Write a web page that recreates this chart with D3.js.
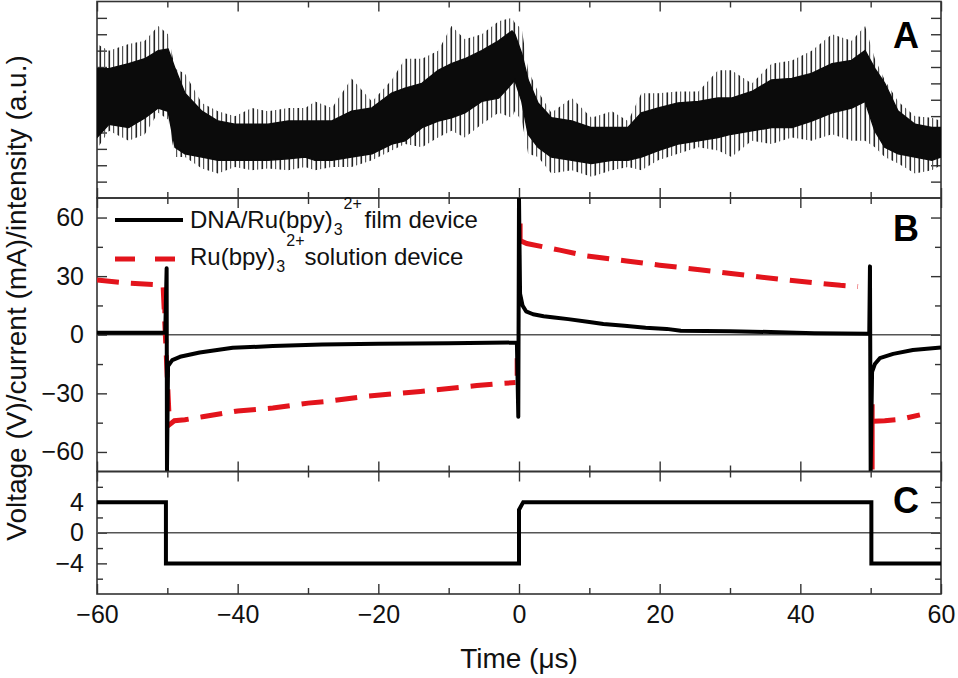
<!DOCTYPE html>
<html>
<head>
<meta charset="utf-8">
<script src="https://cdn.jsdelivr.net/npm/d3@7"></script>
<style>
  body { margin: 0; background: #ffffff; }
  svg { display: block; font-family: "Liberation Sans", Arial, Helvetica, sans-serif; }
</style>
</head>
<body>
<svg id="chart" width="958" height="678"></svg>
<script>

// Time axis shared by the three panels (µs)
const timeDomain = [-60, 60]
const timeTicks = [-60, -40, -20, 0, 20, 40, 60]
const timeMinorTicks = [-50, -30, -10, 10, 30, 50]

const intensityTime = [-60, -58.3, -55.5, -53.2, -51.3, -49.9, -48.9, -47.5, -45.1, -42.8, -40.4, -38, -35.7, -32.8, -30.4, -29, -26.6, -23.8, -20.9, -18.1, -16.2, -13.8, -11.5, -9.6, -7.7, -5.3, -2.9, -1, -0.6, 0.4, 1.3, 2.7, 4.6, 7.5, 10.3, 13.2, 15.5, 17.4, 19.8, 22.6, 25.5, 28.3, 30.2, 33.1, 35.9, 38.8, 41.6, 44.5, 47.3, 49.2, 50.6, 52, 53.9, 56.3, 58.7, 60]
const intensityCoreHigh = [7.9, 7.9, 8.2, 8.5, 9.0, 9.1, 7.9, 6.4, 5.3, 4.7, 4.5, 4.5, 4.5, 4.7, 4.7, 4.7, 4.7, 5.3, 5.5, 6.4, 6.7, 7.0, 7.8, 8.2, 8.5, 9.0, 9.6, 10.2, 10.0, 8.8, 7.2, 5.8, 4.9, 4.7, 4.3, 4.3, 4.3, 5.2, 5.5, 5.8, 5.9, 6.1, 6.1, 6.5, 7.2, 7.3, 7.6, 8.2, 8.4, 9.0, 7.9, 7.0, 5.3, 4.5, 4.3, 4.3]
const intensityCoreLow = [3.7, 4.5, 4.3, 4.9, 5.5, 5.3, 3.1, 2.7, 2.5, 2.3, 2.3, 2.3, 2.3, 2.4, 2.5, 2.3, 2.3, 2.5, 2.7, 3.3, 3.5, 4.3, 4.7, 4.9, 5.2, 5.9, 6.1, 7.0, 7.2, 5.9, 3.9, 3.1, 2.5, 2.3, 2.1, 2.3, 2.3, 2.5, 2.9, 3.3, 3.5, 3.7, 3.9, 4.1, 4.3, 4.3, 4.7, 5.2, 5.5, 5.9, 4.1, 3.1, 2.7, 2.5, 2.3, 2.5]
const intensitySpikeHigh = [9.4, 9.0, 9.4, 9.6, 10.5, 10.0, 7.9, 7.6, 5.8, 5.3, 5.0, 5.5, 5.3, 5.5, 5.5, 5.9, 5.5, 7.3, 5.9, 7.2, 8.5, 8.5, 9.0, 10.5, 9.7, 10.0, 10.8, 11.0, 10.7, 10.3, 7.8, 6.5, 5.2, 6.1, 4.9, 5.3, 4.7, 6.4, 6.4, 6.5, 6.5, 7.8, 7.8, 7.0, 8.2, 8.4, 9.0, 10.0, 9.6, 10.5, 8.5, 7.2, 5.9, 5.0, 4.9, 4.7]
const intensitySpikeLow = [3.0, 4.1, 3.5, 3.9, 5.2, 4.8, 2.5, 2.5, 1.8, 1.5, 1.9, 1.7, 1.8, 1.7, 1.9, 1.7, 1.9, 1.9, 2.3, 2.9, 3.3, 3.1, 3.7, 4.1, 3.7, 4.5, 5.2, 4.9, 5.3, 4.7, 2.7, 2.5, 1.5, 1.7, 1.3, 1.7, 1.9, 1.7, 2.3, 2.7, 3.1, 2.9, 2.5, 3.5, 3.3, 3.7, 3.5, 3.9, 3.5, 3.5, 3.1, 2.5, 2.1, 1.5, 1.7, 2.0]
const intensityTicks = [1, 2, 3, 4, 5, 6, 7, 8, 9, 10, 11]

// Panel B: current (mA)
const filmTime = [-60, -50.3, -50.1, -50.05, -49.9, -49.3, -48.2, -45.4, -40.7, -35, -28, -20, -10, -0.3, -0.1, 0, 0.15, 0.5, 1, 2, 3.5, 5, 7, 10, 12, 15, 18, 21, 23, 30, 37, 42, 49.8, 49.9, 50, 50.2, 50.6, 51.3, 53.2, 56, 60]
const filmCurrent = [1, 1, 34, -70, -16, -13, -11.3, -9.1, -6.7, -5.8, -5, -4.6, -4.3, -4, -42, 70, 21, 15, 12, 10.5, 9.5, 8.8, 8, 6.5, 5.5, 4.6, 3.6, 3, 2, 1.8, 1.3, 0.8, 0.5, 35, -70, -19, -15, -12, -9.8, -7.8, -6.5]
const solutionTime = [-60, -56, -51, -50.6, -49.7, -49, -47.5, -45, -40, -35, -30, -27, -21.6, -14, -6, -2.7, -0.5, -0.4, 0.3, 1.1, 5.8, 9.6, 15.3, 20, 25.7, 32.4, 37.5, 45.7, 48.2, 50.3, 50.4, 52, 54.2, 57]
const solutionCurrent = [28, 26.5, 25.5, 25, -46, -44, -43.5, -42, -39, -37.5, -35, -34, -31.4, -29, -26, -25, -24.5, null, 48, 46.7, 43.3, 40.4, 37.8, 35.6, 33.3, 30.4, 28.2, 25.3, 24.7, null, -44.3, -44, -43.3, -41]
const solutionJumpTime = [-50.5, -0.4, 0.3, 50.35]
const solutionJumpFrom = [20, -21, 57, -35.6]
const solutionJumpTo = [11, -12, 47, -69]
const currentTicks = [-60, -30, 0, 30, 60]
const currentMinorTicks = [-45, -15, 15, 45]

// Panel C: applied voltage (V)
const voltageTime = [-60, -50.2, -50.2, 0, 0, 0.6, 50.1, 50.1, 60]
const voltageValue = [4, 4, -4, -4, 3, 4, 4, -4, -4]
const voltageTicks = [-4, 0, 4]
const voltageMinorTicks = [-6, -2, 2, 6]

// Legend entries
const legendLabels = [
    { main: "DNA/Ru(bpy)", sub: "3", sup: "2+", tail: " film device" },
    { main: "Ru(bpy)", sub: "3", sup: "2+", tail: "solution device" }
]

const svg = d3.select("#chart")
const plotLeft = 97
const plotRight = 941

const x = d3.scaleLinear().domain(timeDomain).range([plotLeft, plotRight])

// Panel geometry
const panelA = { name: "A", top: 1.5, bottom: 198, y: d3.scaleLinear().domain([0, 12]).range([198, 1.5]), letterY: 48 }
const panelB = { name: "B", top: 198, bottom: 471.5, y: d3.scaleLinear().domain([-70, 70]).range([471.5, 198]), letterY: 241 }
const panelC = { name: "C", top: 471.5, bottom: 594, y: d3.scaleLinear().domain([-8, 8]).range([594, 471.5]), letterY: 513 }

const defs = svg.append("defs")

// Vertical hatch for the spike fringe of the noisy intensity trace
let spikePattern = defs.append("pattern")
    .attr("id", "spikes")
    .attr("patternUnits", "userSpaceOnUse")
    .attr("width", 9)
    .attr("height", 10)
spikePattern.append("rect")
    .attr("x", 0.5)
    .attr("y", 0)
    .attr("width", 1.6)
    .attr("height", 10)
    .attr("fill", "#222")
spikePattern.append("rect")
    .attr("x", 5)
    .attr("y", 0)
    .attr("width", 1.2)
    .attr("height", 10)
    .attr("fill", "#555")

function clipFor(panel) {
    defs.append("clipPath")
        .attr("id", "clip" + panel.name)
        .append("rect")
        .attr("x", plotLeft)
        .attr("y", panel.top)
        .attr("width", plotRight - plotLeft)
        .attr("height", panel.bottom - panel.top)
    return "url(#clip" + panel.name + ")"
}

function tickStyle(g) {
    g.select(".domain").remove()
    g.selectAll(".tick line").attr("stroke", "#333").attr("stroke-width", 1.4)
    g.selectAll(".tick text")
        .attr("fill", "#111")
        .style("font-size", "25px")
        .style("font-family", "'Liberation Sans', Arial, sans-serif")
}

// Frame, inward ticks on all four sides
function drawFrame(panel, majorY, minorY, showYLabels, showXLabels) {
    let g = svg.append("g")

    // Time ticks on top and bottom edges
    g.append("g")
        .attr("transform", "translate(0," + panel.top + ")")
        .call(d3.axisTop(x).tickValues(timeTicks).tickSizeInner(-10).tickSizeOuter(0).tickFormat(""))
        .call(tickStyle)
    g.append("g")
        .attr("transform", "translate(0," + panel.top + ")")
        .call(d3.axisTop(x).tickValues(timeMinorTicks).tickSizeInner(-6).tickSizeOuter(0).tickFormat(""))
        .call(tickStyle)
    g.append("g")
        .attr("transform", "translate(0," + panel.bottom + ")")
        .call(d3.axisBottom(x).tickValues(timeTicks).tickSizeInner(-10).tickSizeOuter(0).tickPadding(11)
            .tickFormat(showXLabels ? d3.format("d") : ""))
        .call(tickStyle)
    g.append("g")
        .attr("transform", "translate(0," + panel.bottom + ")")
        .call(d3.axisBottom(x).tickValues(timeMinorTicks).tickSizeInner(-6).tickSizeOuter(0).tickFormat(""))
        .call(tickStyle)

    // Value ticks on left and right edges
    g.append("g")
        .attr("transform", "translate(" + plotLeft + ",0)")
        .call(d3.axisLeft(panel.y).tickValues(majorY).tickSizeInner(-10).tickSizeOuter(0).tickPadding(13)
            .tickFormat(showYLabels ? d3.format("d") : ""))
        .call(tickStyle)
    g.append("g")
        .attr("transform", "translate(" + plotRight + ",0)")
        .call(d3.axisRight(panel.y).tickValues(majorY).tickSizeInner(-10).tickSizeOuter(0).tickFormat(""))
        .call(tickStyle)
    if (minorY.length) {
        g.append("g")
            .attr("transform", "translate(" + plotLeft + ",0)")
            .call(d3.axisLeft(panel.y).tickValues(minorY).tickSizeInner(-6).tickSizeOuter(0).tickFormat(""))
            .call(tickStyle)
        g.append("g")
            .attr("transform", "translate(" + plotRight + ",0)")
            .call(d3.axisRight(panel.y).tickValues(minorY).tickSizeInner(-6).tickSizeOuter(0).tickFormat(""))
            .call(tickStyle)
    }

    g.append("rect")
        .attr("x", plotLeft)
        .attr("y", panel.top)
        .attr("width", plotRight - plotLeft)
        .attr("height", panel.bottom - panel.top)
        .attr("fill", "none")
        .attr("stroke", "#333")
        .attr("stroke-width", 1.6)
}

function zeroLine(panel) {
    svg.append("line")
        .attr("x1", plotLeft)
        .attr("x2", plotRight)
        .attr("y1", panel.y(0))
        .attr("y2", panel.y(0))
        .attr("stroke", "#555")
        .attr("stroke-width", 1.3)
}

function panelLetter(panel) {
    svg.append("text")
        .attr("x", 919)
        .attr("y", panel.letterY)
        .attr("text-anchor", "end")
        .attr("font-weight", "bold")
        .attr("font-size", 36)
        .attr("fill", "#000")
        .text(panel.name)
}

// ---------- Panel A ----------
let clipA = clipFor(panelA)
drawFrame(panelA, intensityTicks, [], false, false)

let gA = svg.append("g").attr("clip-path", clipA)
let idxA = d3.range(intensityTime.length)

gA.append("path")
    .attr("d", d3.area()
        .x(i => x(intensityTime[i]))
        .y0(i => panelA.y(intensitySpikeLow[i]))
        .y1(i => panelA.y(intensitySpikeHigh[i]))(idxA))
    .attr("fill", "url(#spikes)")

gA.append("path")
    .attr("d", d3.area()
        .x(i => x(intensityTime[i]))
        .y0(i => panelA.y(intensityCoreLow[i]))
        .y1(i => panelA.y(intensityCoreHigh[i]))(idxA))
    .attr("fill", "#0b0b0b")
    .attr("stroke", "#0b0b0b")
    .attr("stroke-width", 1.5)

panelLetter(panelA)

// ---------- Panel B ----------
let clipB = clipFor(panelB)
drawFrame(panelB, currentTicks, currentMinorTicks, true, false)
zeroLine(panelB)

let gB = svg.append("g").attr("clip-path", clipB)

// Solution device (red dashed)
gB.append("path")
    .attr("d", d3.line()
        .defined(i => solutionCurrent[i] !== null)
        .x(i => x(solutionTime[i]))
        .y(i => panelB.y(solutionCurrent[i]))(d3.range(solutionTime.length)))
    .attr("fill", "none")
    .attr("stroke", "#e3141c")
    .attr("stroke-width", 5)
    .attr("stroke-dasharray", "22,12")

gB.selectAll(".jump")
    .data(d3.range(solutionJumpTime.length))
    .enter()
    .append("line")
    .attr("x1", i => x(solutionJumpTime[i]))
    .attr("x2", i => x(solutionJumpTime[i]))
    .attr("y1", i => panelB.y(solutionJumpFrom[i]))
    .attr("y2", i => panelB.y(solutionJumpTo[i]))
    .attr("stroke", "#e3141c")
    .attr("stroke-width", 3)

// Film device (black solid)
gB.append("path")
    .attr("d", d3.line()
        .x(i => x(filmTime[i]))
        .y(i => panelB.y(filmCurrent[i]))(d3.range(filmTime.length)))
    .attr("fill", "none")
    .attr("stroke", "#000")
    .attr("stroke-width", 4)
    .attr("stroke-linejoin", "round")

// Legend
let legendRows = [
    { y: 220, textY: 228, stroke: "#000", dash: null, width: 4 },
    { y: 259, textY: 265, stroke: "#e3141c", dash: "20,20", width: 5 }
]
legendRows.forEach((row, i) => {
    let ln = svg.append("line")
        .attr("x1", 115)
        .attr("x2", i == 0 ? 183 : 176)
        .attr("y1", row.y)
        .attr("y2", row.y)
        .attr("stroke", row.stroke)
        .attr("stroke-width", row.width)
    if (row.dash) ln.attr("stroke-dasharray", row.dash)

    let label = legendLabels[i]
    let t = svg.append("text")
        .attr("x", 190)
        .attr("y", row.textY)
        .attr("font-size", 24)
        .attr("fill", "#111")
    t.append("tspan").text(label.main)
    t.append("tspan").attr("font-size", 16).attr("dx", 1).attr("dy", 7).text(label.sub)
    t.append("tspan").attr("font-size", 16).attr("dx", 1).attr("dy", -26).text(label.sup)
    t.append("tspan").attr("dx", i == 0 ? -4 : 0).attr("dy", 19).text(label.tail)
})

panelLetter(panelB)

// ---------- Panel C ----------
let clipC = clipFor(panelC)
drawFrame(panelC, voltageTicks, voltageMinorTicks, true, true)
zeroLine(panelC)

svg.append("g")
    .attr("clip-path", clipC)
    .append("path")
    .attr("d", d3.line()
        .x(i => x(voltageTime[i]))
        .y(i => panelC.y(voltageValue[i]))(d3.range(voltageTime.length)))
    .attr("fill", "none")
    .attr("stroke", "#000")
    .attr("stroke-width", 4)

panelLetter(panelC)

// Axis titles
svg.append("text")
    .attr("x", 519)
    .attr("y", 668)
    .attr("text-anchor", "middle")
    .attr("font-size", 28)
    .attr("fill", "#111")
    .text("Time (μs)")

svg.append("text")
    .attr("transform", "translate(26,298) rotate(-90)")
    .attr("text-anchor", "middle")
    .attr("font-size", 28)
    .attr("fill", "#111")
    .text("Voltage (V)/current (mA)/intensity (a.u.)")

</script>
</body>
</html>
